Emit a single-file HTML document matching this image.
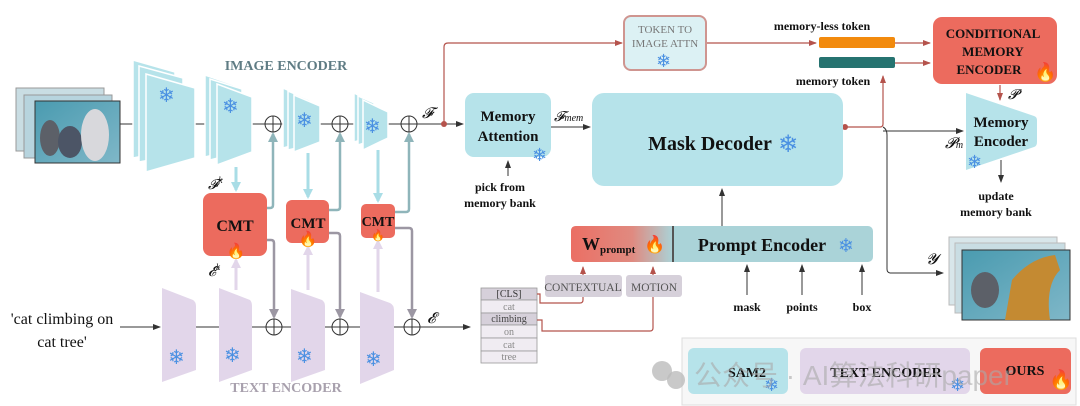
<!DOCTYPE html>
<html><head><meta charset="utf-8"><style>
html,body{margin:0;padding:0;background:#fff;}
svg{display:block;font-family:"Liberation Serif",serif;}
.b{font-weight:bold;}
</style></head><body>
<svg width="1080" height="406" viewBox="0 0 1080 406" xmlns="http://www.w3.org/2000/svg">
<defs>
<marker id="ak" markerWidth="8" markerHeight="8" refX="7" refY="4" orient="auto" markerUnits="userSpaceOnUse"><path d="M0,1 L8,4 L0,7z" fill="#333"/></marker>
<marker id="ar" markerWidth="8" markerHeight="8" refX="7" refY="4" orient="auto" markerUnits="userSpaceOnUse"><path d="M0,1 L8,4 L0,7z" fill="#b5534c"/></marker>
<marker id="at" markerWidth="10" markerHeight="10" refX="8" refY="5" orient="auto" markerUnits="userSpaceOnUse"><path d="M0,0 L10,5 L0,10z" fill="#8fb5ba"/></marker>
<marker id="ac" markerWidth="10" markerHeight="10" refX="8" refY="5" orient="auto" markerUnits="userSpaceOnUse"><path d="M0,0 L10,5 L0,10z" fill="#a9dde6"/></marker>
<marker id="ag" markerWidth="10" markerHeight="10" refX="8" refY="5" orient="auto" markerUnits="userSpaceOnUse"><path d="M0,0 L10,5 L0,10z" fill="#9c97a3"/></marker>
<marker id="ap" markerWidth="10" markerHeight="10" refX="8" refY="5" orient="auto" markerUnits="userSpaceOnUse"><path d="M0,0 L10,5 L0,10z" fill="#e2d6ea"/></marker>
<linearGradient id="wg" x1="0" x2="1"><stop offset="0" stop-color="#eb6f64"/><stop offset="0.6" stop-color="#e08a80"/><stop offset="1" stop-color="#aad3d8"/></linearGradient>
<linearGradient id="img" x1="0" x2="1" y1="0" y2="1"><stop offset="0" stop-color="#4a9bb0"/><stop offset="1" stop-color="#7fb7c8"/></linearGradient>
</defs>

<rect x="16" y="88" width="88" height="63" fill="#c9dde3" stroke="#999"/>
<rect x="24" y="95" width="88" height="63" fill="#b7d4de" stroke="#999"/>
<rect x="35" y="101" width="85" height="62" fill="url(#img)" stroke="#333"/>
<ellipse cx="50" cy="138" rx="10" ry="18" fill="#5c6068"/>
<ellipse cx="70" cy="142" rx="12" ry="16" fill="#4c5566"/>
<ellipse cx="95" cy="135" rx="14" ry="26" fill="#d8d8dc"/>

<g stroke="#333" stroke-width="1" fill="none">
<line x1="120" y1="124" x2="146" y2="124" marker-end="url(#ak)"/>
<line x1="195" y1="124" x2="218" y2="124"/>
<line x1="252" y1="124" x2="295" y2="124"/>
<line x1="320" y1="124" x2="365" y2="124"/>
<line x1="388" y1="124" x2="463" y2="124" marker-end="url(#ak)"/>
<line x1="120" y1="327" x2="160" y2="327" marker-end="url(#ak)"/>
<line x1="195" y1="327" x2="219" y2="327"/>
<line x1="252" y1="327" x2="291" y2="327"/>
<line x1="324" y1="327" x2="360" y2="327"/>
<line x1="394" y1="327" x2="470" y2="327" marker-end="url(#ak)"/>
</g>

<g fill="#b6e3ea" stroke="#fff" stroke-width="1.5">
<path d="M133,60 L175,72 L175,150 L133,158z"/>
<path d="M139,66 L183,78 L183,154 L139,162z"/>
<path d="M146,74 L195,88 Q195,90 195,92 L195,158 L146,172z"/>
<path d="M205,75 L234,85 L234,150 L205,157z"/>
<path d="M210,79 L242,89 L242,152 L210,160z"/>
<path d="M217,84 L252,97 L252,152 L217,165z"/>
<path d="M283,88 L302,96 L302,143 L283,148z"/>
<path d="M288,91 L310,100 L310,145 L288,150z"/>
<path d="M294,95 L320,106 L320,142 L294,152z"/>
<path d="M354,93 L368,100 L368,138 L354,142z"/>
<path d="M358,96 L374,103 L374,140 L358,145z"/>
<path d="M363,100 L388,112 L388,138 L363,150z"/>
</g>
<g fill="#4a90e2" font-size="20" font-family="DejaVu Sans,sans-serif">
<text x="158" y="102">❄</text><text x="222" y="113">❄</text><text x="296" y="127">❄</text><text x="364" y="133">❄</text>
</g>
<text x="286" y="70" text-anchor="middle" class="b" font-size="14" fill="#5f7c84">IMAGE ENCODER</text>

<g fill="#e2d6ea">
<path d="M162,288 L193,300 Q196,302 196,306 L196,370 L162,382z"/>
<path d="M219,288 L250,300 Q252,302 252,306 L252,370 L219,382z"/>
<path d="M291,289 L322,300 Q325,302 325,306 L325,370 L291,382z"/>
<path d="M360,292 L390,303 Q394,305 394,310 L394,370 L360,384z"/>
</g>
<g fill="#4a90e2" font-size="20" font-family="DejaVu Sans,sans-serif">
<text x="168" y="364">❄</text><text x="224" y="362">❄</text><text x="296" y="363">❄</text><text x="365" y="366">❄</text>
</g>
<text x="286" y="392" text-anchor="middle" class="b" font-size="14" fill="#a8a0ad">TEXT ENCODER</text>
<text x="62" y="324" text-anchor="middle" font-size="16" fill="#111">'cat climbing on</text>
<text x="62" y="347" text-anchor="middle" font-size="16" fill="#111">cat tree'</text>

<g stroke="#a9dde6" stroke-width="3" fill="none">
<line x1="236" y1="167" x2="236" y2="190" marker-end="url(#ac)"/>
<line x1="308" y1="153" x2="308" y2="197" marker-end="url(#ac)"/>
<line x1="378" y1="150" x2="378" y2="201" marker-end="url(#ac)"/>
</g>
<g stroke="#e2d6ea" stroke-width="3" fill="none">
<line x1="236" y1="290" x2="236" y2="260" marker-end="url(#ap)"/>
<line x1="308" y1="290" x2="308" y2="247" marker-end="url(#ap)"/>
<line x1="378" y1="292" x2="378" y2="241" marker-end="url(#ap)"/>
</g>
<g stroke="#8fb5ba" stroke-width="2.5" fill="none">
<path d="M266,208 L270,208 Q273,208 273,205 L273,134" marker-end="url(#at)"/>
<path d="M329,210 L337,210 Q340,210 340,207 L340,134" marker-end="url(#at)"/>
<path d="M395,212 L406,212 Q409,212 409,209 L409,134" marker-end="url(#at)"/>
</g>
<g stroke="#9c97a3" stroke-width="2.5" fill="none">
<path d="M266,240 L271,240 Q274,240 274,243 L274,317" marker-end="url(#ag)"/>
<path d="M329,233 L337,233 Q340,233 340,236 L340,317" marker-end="url(#ag)"/>
<path d="M395,228 L409,228 Q412,228 412,231 L412,317" marker-end="url(#ag)"/>
</g>
<g stroke="#333" stroke-width="1" fill="#fff">
<circle cx="273" cy="124" r="8"/><circle cx="340" cy="124" r="8"/><circle cx="409" cy="124" r="8"/>
<circle cx="274" cy="327" r="8"/><circle cx="340" cy="327" r="8"/><circle cx="412" cy="327" r="8"/>
<path d="M265,124h16M273,116v16M332,124h16M340,116v16M401,124h16M409,116v16M266,327h16M274,319v16M332,327h16M340,319v16M404,327h16M412,319v16" fill="none"/>
</g>
<rect x="203" y="193" width="64" height="63" rx="8" fill="#ec6b5e"/>
<rect x="286" y="200" width="43" height="43" rx="6" fill="#ec6b5e"/>
<rect x="361" y="204" width="34" height="34" rx="5" fill="#ec6b5e"/>
<g class="b" fill="#111" text-anchor="middle"><text x="235" y="231" font-size="16">CMT</text><text x="308" y="228" font-size="15">CMT</text><text x="378" y="226" font-size="14">CMT</text></g>
<g font-size="15" text-anchor="middle"><text x="236" y="256">🔥</text><text x="308" y="244">🔥</text><text x="378" y="239" font-size="11">🔥</text></g>
<text x="208" y="189" font-size="14" font-style="italic" fill="#111">𝓕<tspan font-size="9" dy="-6">k</tspan></text>
<text x="208" y="276" font-size="14" font-style="italic" fill="#111">𝓔<tspan font-size="9" dy="-6">k</tspan></text>
<text x="422" y="118" font-size="15" font-style="italic" fill="#111">𝓕</text>
<text x="427" y="323" font-size="15" font-style="italic" fill="#111">𝓔</text>

<g stroke="#999" stroke-width="0.8">
<rect x="481" y="288" width="56" height="12" fill="#d6d0da"/><rect x="481" y="300" width="56" height="13" fill="#f0ecf2"/>
<rect x="481" y="313" width="56" height="12" fill="#d6d0da"/><rect x="481" y="325" width="56" height="13" fill="#f0ecf2"/>
<rect x="481" y="338" width="56" height="13" fill="#f0ecf2"/><rect x="481" y="351" width="56" height="12" fill="#f0ecf2"/>
</g>
<g font-size="10" text-anchor="middle"><text x="509" y="297" fill="#333">[CLS]</text><text x="509" y="310" fill="#888">cat</text><text x="509" y="322" fill="#444">climbing</text><text x="509" y="335" fill="#888">on</text><text x="509" y="348" fill="#888">cat</text><text x="509" y="360" fill="#888">tree</text></g>

<g stroke="#b5534c" stroke-width="1.2" fill="none">
<path d="M444,124 L444,47 Q444,43 448,43 L622,43" marker-end="url(#ar)"/>
<line x1="706" y1="43" x2="816" y2="43" marker-end="url(#ar)"/>
<line x1="895" y1="43" x2="930" y2="43" marker-end="url(#ar)"/>
<line x1="895" y1="63" x2="930" y2="63" marker-end="url(#ar)"/>
<path d="M537,294 L540,294 L540,303 L580,303 Q583,303 583,300 L583,267" marker-end="url(#ar)"/>
<path d="M537,320 L542,320 L542,331 L650,331 Q653,331 653,328 L653,267" marker-end="url(#ar)"/>
<path d="M845,127 L880,127 Q883,127 883,124 L883,76" marker-end="url(#ar)"/>
<line x1="1000" y1="85" x2="1000" y2="100" marker-end="url(#ar)"/>
</g>
<circle cx="444" cy="124" r="3" fill="#b5534c"/>
<circle cx="845" cy="127" r="3" fill="#b5534c"/>

<rect x="624" y="16" width="82" height="54" rx="7" fill="#dcf1f4" stroke="#cf9590" stroke-width="2"/>
<text x="665" y="33" text-anchor="middle" font-size="11" fill="#777">TOKEN TO</text>
<text x="665" y="47" text-anchor="middle" font-size="11" fill="#777">IMAGE ATTN</text>
<text x="656" y="67" font-size="18" fill="#4a90e2" font-family="DejaVu Sans,sans-serif">❄</text>

<text x="822" y="30" text-anchor="middle" class="b" font-size="12" fill="#111">memory-less token</text>
<rect x="819" y="37" width="76" height="11" rx="2" fill="#f28a0d"/>
<rect x="819" y="57" width="76" height="11" rx="2" fill="#267370"/>
<text x="833" y="85" text-anchor="middle" class="b" font-size="12" fill="#111">memory token</text>

<rect x="933" y="17" width="124" height="67" rx="9" fill="#ec6b5e"/>
<g class="b" font-size="13" fill="#111" text-anchor="middle"><text x="993" y="38">CONDITIONAL</text><text x="993" y="56">MEMORY</text><text x="989" y="74">ENCODER</text></g>
<text x="1034" y="78" font-size="18">🔥</text>

<rect x="465" y="93" width="86" height="64" rx="9" fill="#b6e3ea"/>
<text x="508" y="121" text-anchor="middle" class="b" font-size="15" fill="#111">Memory</text>
<text x="508" y="141" text-anchor="middle" class="b" font-size="15" fill="#111">Attention</text>
<text x="532" y="161" font-size="18" fill="#4a90e2" font-family="DejaVu Sans,sans-serif">❄</text>
<line x1="508" y1="176" x2="508" y2="161" stroke="#333" marker-end="url(#ak)"/>
<text x="500" y="191" text-anchor="middle" class="b" font-size="12" fill="#111">pick from</text>
<text x="500" y="207" text-anchor="middle" class="b" font-size="12" fill="#111">memory bank</text>
<line x1="551" y1="127" x2="590" y2="127" stroke="#333" marker-end="url(#ak)"/>
<text x="554" y="121" font-size="14" font-style="italic" fill="#111">𝓕<tspan font-size="10">mem</tspan></text>

<rect x="592" y="93" width="251" height="93" rx="12" fill="#b6e3ea"/>
<text x="710" y="150" text-anchor="middle" class="b" font-size="20" fill="#111">Mask Decoder</text>
<text x="778" y="152" font-size="24" fill="#4a90e2" font-family="DejaVu Sans,sans-serif">❄</text>
<line x1="722" y1="226" x2="722" y2="189" stroke="#333" marker-end="url(#ak)"/>

<g stroke="#333" fill="none">
<line x1="883" y1="131" x2="963" y2="131" marker-end="url(#ak)"/>
<path d="M883,127 Q887,129 887,135 L887,269 Q887,273 891,273 L943,273" marker-end="url(#ak)"/>
<line x1="1001" y1="160" x2="1001" y2="182" marker-end="url(#ak)"/>
</g>
<text x="945" y="148" font-size="15" font-style="italic" fill="#111">𝓟<tspan font-size="10">m</tspan></text>
<text x="1008" y="99" font-size="14" font-style="italic" fill="#111">𝓟</text>
<text x="926" y="264" font-size="15" font-style="italic" fill="#111">𝓨</text>

<path d="M966,93 L1034,116 Q1037,117 1037,120 L1037,142 Q1037,146 1034,147 L966,170z" fill="#b6e3ea"/>
<text x="1001" y="127" text-anchor="middle" class="b" font-size="15" fill="#111">Memory</text>
<text x="1001" y="146" text-anchor="middle" class="b" font-size="15" fill="#111">Encoder</text>
<text x="967" y="168" font-size="18" fill="#4a90e2" font-family="DejaVu Sans,sans-serif">❄</text>
<text x="996" y="200" text-anchor="middle" class="b" font-size="12" fill="#111">update</text>
<text x="996" y="216" text-anchor="middle" class="b" font-size="12" fill="#111">memory bank</text>

<rect x="571" y="226" width="302" height="36" rx="5" fill="#aad3d8"/>
<path d="M576,226 L673,226 L673,262 L576,262 Q571,262 571,257 L571,231 Q571,226 576,226z" fill="url(#wg)"/>
<line x1="673" y1="226" x2="673" y2="262" stroke="#555" stroke-width="2"/>
<text x="582" y="250" class="b" font-size="18" fill="#111">W<tspan font-size="11" dy="3">prompt</tspan></text>
<text x="644" y="250" font-size="17">🔥</text>
<text x="762" y="251" text-anchor="middle" class="b" font-size="18" fill="#111">Prompt Encoder</text>
<text x="838" y="252" font-size="19" fill="#4a90e2" font-family="DejaVu Sans,sans-serif">❄</text>
<rect x="545" y="275" width="77" height="22" rx="3" fill="#d6d0da"/>
<rect x="626" y="275" width="56" height="22" rx="3" fill="#d6d0da"/>
<text x="583" y="291" text-anchor="middle" font-size="11.5" fill="#555">CONTEXTUAL</text>
<text x="654" y="291" text-anchor="middle" font-size="11.5" fill="#555">MOTION</text>
<g stroke="#333"><line x1="747" y1="295" x2="747" y2="265" marker-end="url(#ak)"/><line x1="802" y1="295" x2="802" y2="265" marker-end="url(#ak)"/><line x1="862" y1="295" x2="862" y2="265" marker-end="url(#ak)"/></g>
<g class="b" font-size="12" fill="#111" text-anchor="middle"><text x="747" y="311">mask</text><text x="802" y="311">points</text><text x="862" y="311">box</text></g>

<rect x="949" y="237" width="108" height="68" fill="#d8e6ea" stroke="#bbb"/>
<rect x="955" y="243" width="110" height="70" fill="#c9dde3" stroke="#bbb"/>
<rect x="962" y="250" width="108" height="70" fill="url(#img)" stroke="#333"/>
<ellipse cx="985" cy="290" rx="14" ry="18" fill="#5c6068"/>
<path d="M1005,320 L1012,280 Q1030,258 1055,255 L1060,270 Q1045,285 1050,320z" fill="#c48a32"/>

<rect x="682" y="338" width="394" height="67" fill="#f7f7f7" stroke="#ddd"/>
<rect x="688" y="348" width="100" height="46" rx="6" fill="#b6e3ea"/>
<rect x="800" y="348" width="170" height="46" rx="6" fill="#e2d6ea"/>
<rect x="980" y="348" width="91" height="46" rx="6" fill="#ec6b5e"/>
<g class="b" font-size="14" fill="#111" text-anchor="middle"><text x="747" y="377">SAM2</text><text x="886" y="377">TEXT ENCODER</text><text x="1025" y="375">OURS</text></g>
<text x="764" y="391" font-size="18" fill="#4a90e2" font-family="DejaVu Sans,sans-serif">❄</text>
<text x="950" y="391" font-size="18" fill="#4a90e2" font-family="DejaVu Sans,sans-serif">❄</text>
<text x="1049" y="386" font-size="19">🔥</text>
<circle cx="662" cy="371" r="10" fill="#bbb" opacity="0.8"/><circle cx="676" cy="380" r="9" fill="#bbb" opacity="0.8"/>
<text x="694" y="385" font-size="28" fill="#aaa" opacity="0.6" font-family="Liberation Sans,'Noto Sans CJK SC',sans-serif">公众号 · AI算法科研paper</text>
</svg>
</body></html>
